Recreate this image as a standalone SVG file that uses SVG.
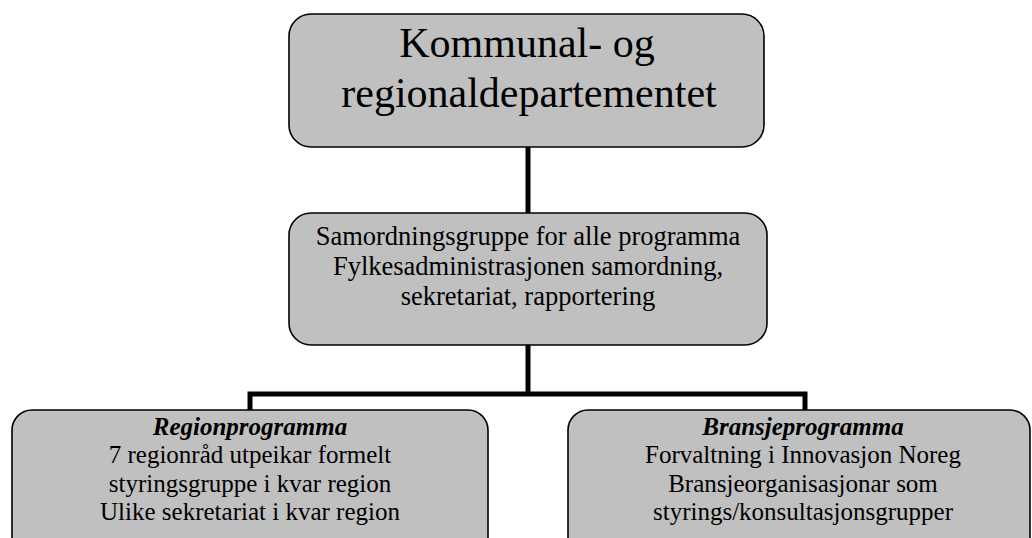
<svg xmlns="http://www.w3.org/2000/svg" width="1032" height="538" viewBox="0 0 1032 538">
<style>
.box{fill:#c0c0c0;stroke:#000;stroke-width:1.6}
.t{font-family:"Liberation Serif","Times New Roman",serif;fill:#000;text-anchor:middle}
.conn{fill:none;stroke:#000;stroke-width:5;stroke-linecap:butt;stroke-linejoin:miter}
</style>
<rect width="1032" height="538" fill="#fff"/>
<g id="connectors">
<path class="conn" d="M528 147V213"/>
<path class="conn" d="M528 345V394"/>
<path class="conn" d="M250 410V394H805V410"/>
</g>
<g id="node-kommunal">
<rect class="box" x="289" y="14" width="475" height="133" rx="22"/>
<text class="t" font-size="42" x="527" y="57">Kommunal- og</text>
<text class="t" font-size="42" x="529" y="107">regionaldepartementet</text>
</g>
<g id="node-samordning">
<rect class="box" x="289" y="213" width="478" height="132" rx="22"/>
<text class="t" font-size="26.5" x="528" y="245">Samordningsgruppe for alle programma</text>
<text class="t" font-size="26.5" x="528" y="275">Fylkesadministrasjonen samordning,</text>
<text class="t" font-size="26.5" x="528" y="305">sekretariat, rapportering</text>
</g>
<g id="node-region">
<rect class="box" x="12" y="410" width="476" height="160" rx="20"/>
<text class="t" font-size="25" x="250" y="435" font-weight="bold" font-style="italic">Regionprogramma</text>
<text class="t" font-size="25" x="250" y="463">7 regionråd utpeikar formelt</text>
<text class="t" font-size="25" x="250" y="492">styringsgruppe i kvar region</text>
<text class="t" font-size="25" x="250" y="520">Ulike sekretariat i kvar region</text>
</g>
<g id="node-bransje">
<rect class="box" x="568" y="410" width="462" height="160" rx="20"/>
<text class="t" font-size="25" x="803" y="435" font-weight="bold" font-style="italic">Bransjeprogramma</text>
<text class="t" font-size="25" x="803" y="463">Forvaltning i Innovasjon Noreg</text>
<text class="t" font-size="25" x="803" y="492">Bransjeorganisasjonar som</text>
<text class="t" font-size="25" x="803" y="520">styrings/konsultasjonsgrupper</text>
</g>
</svg>
